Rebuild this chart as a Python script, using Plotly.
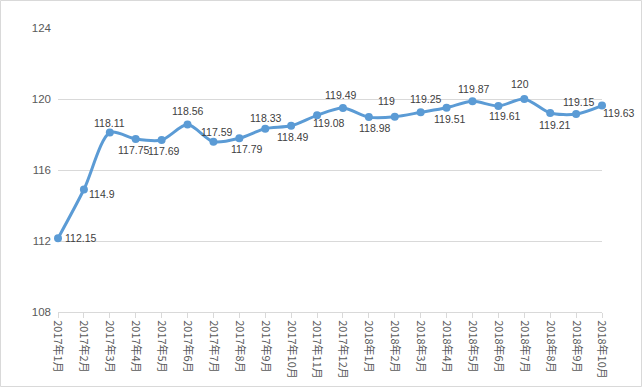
import plotly.graph_objects as go

categories = ["2017年1月", "2017年2月", "2017年3月", "2017年4月", "2017年5月", "2017年6月",
              "2017年7月", "2017年8月", "2017年9月", "2017年10月", "2017年11月", "2017年12月",
              "2018年1月", "2018年2月", "2018年3月", "2018年4月", "2018年5月", "2018年6月",
              "2018年7月", "2018年8月", "2018年9月", "2018年10月"]
values = [112.15, 114.9, 118.11, 117.75, 117.69, 118.56, 117.59, 117.79, 118.33, 118.49,
          119.08, 119.49, 118.98, 119, 119.25, 119.51, 119.87, 119.61, 120, 119.21, 119.15, 119.63]
y_ticks = [108, 112, 116, 120, 124]

# data-label offsets (pixels) relative to each point, as placed in the reference
label_dx = [22, 18, 0, -2, 2, 0, 3, 7, 0, 1, 11, -2, 6, -8, 5, 3, 1, 6, -4, 4, 2, 16]
label_dy = [0, -4, 10, -11, -11, 14, 10, -11, 11, -11, -8, 13, -11, 16, 13, -11, 12, -10, 15, -12, 12, -7]

CJK = "Noto Sans CJK SC, sans-serif"
NUM = "Liberation Sans, Arial, sans-serif"
W, H = 643, 388
L, R, T, B = 58, 41, 28, 76

xs = list(range(len(categories)))
fig = go.Figure(go.Scatter(
    x=xs, y=values,
    mode="lines+markers",
    line=dict(color="#5B9BD5", width=3, shape="spline", smoothing=0.8),
    marker=dict(color="#5B9BD5", size=8),
    cliponaxis=False,
    hoverinfo="skip",
))

annotations = [
    dict(x=x, y=v, text=f"{v:g}", showarrow=False, xanchor="center", yanchor="middle",
         xshift=dx, yshift=dy, font=dict(family=NUM, size=10.5, color="#404040"))
    for x, v, dx, dy in zip(xs, values, label_dx, label_dy)
]

pw = W - L - R
ph = H - T - B
fig.update_layout(
    width=W, height=H,
    margin=dict(l=L, r=R, t=T, b=B, autoexpand=False),
    paper_bgcolor="white", plot_bgcolor="white",
    showlegend=False,
    font=dict(family=NUM),
    annotations=annotations,
    xaxis=dict(
        tickmode="array", tickvals=xs, ticktext=categories,
        range=[0, len(categories) - 1], tickangle=90, automargin=False,
        showgrid=False, zeroline=False,
        showline=True, linecolor="#D9D9D9", linewidth=1,
        ticks="outside", ticklen=5, tickcolor="#D9D9D9",
        tickfont=dict(family=CJK, size=11, color="#595959"),
    ),
    yaxis=dict(
        range=[108, 124], tickvals=y_ticks, automargin=False,
        showgrid=True, gridcolor="#D9D9D9", gridwidth=1, zeroline=False,
        showline=False, ticks="", ticklabelstandoff=6,
        tickfont=dict(family=NUM, size=11.5, color="#595959"),
    ),
    shapes=[dict(type="rect", xref="paper", yref="paper",
                 x0=-(L - 0.5) / pw, x1=(W - L - 1.5) / pw,
                 y0=-(B - 1.5) / ph, y1=1 + (T - 0.5) / ph,
                 line=dict(color="#D9D9D9", width=1), fillcolor="rgba(0,0,0,0)")],
)

fig.write_html("out.html", config={"displayModeBar": False},
               post_script="document.body.style.margin='0';")
